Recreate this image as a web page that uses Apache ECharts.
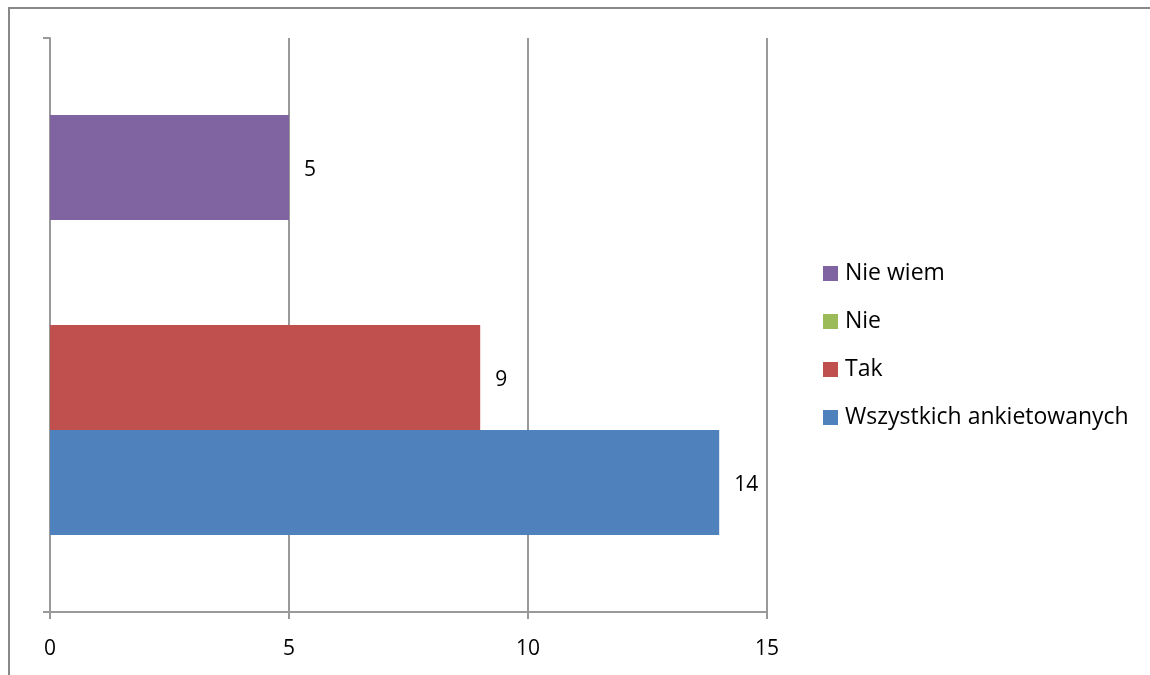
<!DOCTYPE html>
<html>
<head>
<meta charset="utf-8">
<script src="https://cdn.jsdelivr.net/npm/echarts@6/dist/echarts.min.js"></script>
<style>html,body{margin:0;padding:0;background:#fff}#c{width:1150px;height:675px}</style>
</head>
<body>
<div id="c"></div>
<script>
var categories = [''];
var seriesNames = ['Nie wiem', 'Nie', 'Tak', 'Wszystkich ankietowanych'];
var seriesColors = ['#8064A2', '#9BBB59', '#C0504D', '#4F81BD'];
var valuesNieWiem = [5];
var valuesNie = [0];
var valuesTak = [9];
var valuesWszystkich = [14];
var xTicks = [0, 5, 10, 15];

var allValues = [valuesNieWiem, valuesNie, valuesTak, valuesWszystkich];
var FONT = 'Open Sans';

var chart = echarts.init(document.getElementById('c'));
var series = seriesNames.map(function (name, i) {
  return {
    name: name,
    type: 'bar',
    data: allValues[i],
    barWidth: 105,
    barGap: '0%',
    itemStyle: { color: seriesColors[i] },
    label: {
      show: true,
      position: 'right',
      distance: 15,
      offset: [0, 3],
      color: '#000',
      fontFamily: FONT,
      fontSize: 21,
      formatter: function (p) { return p.value === 0 ? '' : String(p.value); }
    }
  };
});

chart.setOption({
  animation: false,
  backgroundColor: '#fff',
  textStyle: { fontFamily: FONT },
  grid: { left: 50, right: 383, top: 38, bottom: 63, containLabel: false },
  xAxis: {
    type: 'value',
    min: xTicks[0],
    max: xTicks[xTicks.length - 1],
    interval: xTicks[1] - xTicks[0],
    axisLine: { show: true, lineStyle: { color: '#999', width: 2 } },
    axisTick: { show: true, length: 7, lineStyle: { color: '#999', width: 2 } },
    axisLabel: { color: '#000', fontSize: 21, fontFamily: FONT, margin: 27 },
    splitLine: { show: true, lineStyle: { color: '#999', width: 2 } }
  },
  yAxis: {
    type: 'category',
    data: categories,
    axisLine: { show: true, lineStyle: { color: '#999', width: 2 } },
    axisTick: { show: true, length: 7, lineStyle: { color: '#999', width: 2 } },
    axisLabel: { show: false }
  },
  legend: {
    orient: 'vertical',
    left: 818,
    top: 257,
    itemWidth: 15,
    itemHeight: 15,
    itemGap: 25,
    icon: 'rect',
    data: seriesNames.slice(),
    textStyle: { color: '#000', fontSize: 23, fontFamily: FONT, padding: [0, 0, 0, 2] }
  },
  graphic: [
    {
      type: 'rect',
      shape: { x: 9, y: 8, width: 1200, height: 700 },
      style: { fill: 'none', stroke: '#888', lineWidth: 2 },
      silent: true
    }
  ],
  series: series
});
</script>
</body>
</html>
